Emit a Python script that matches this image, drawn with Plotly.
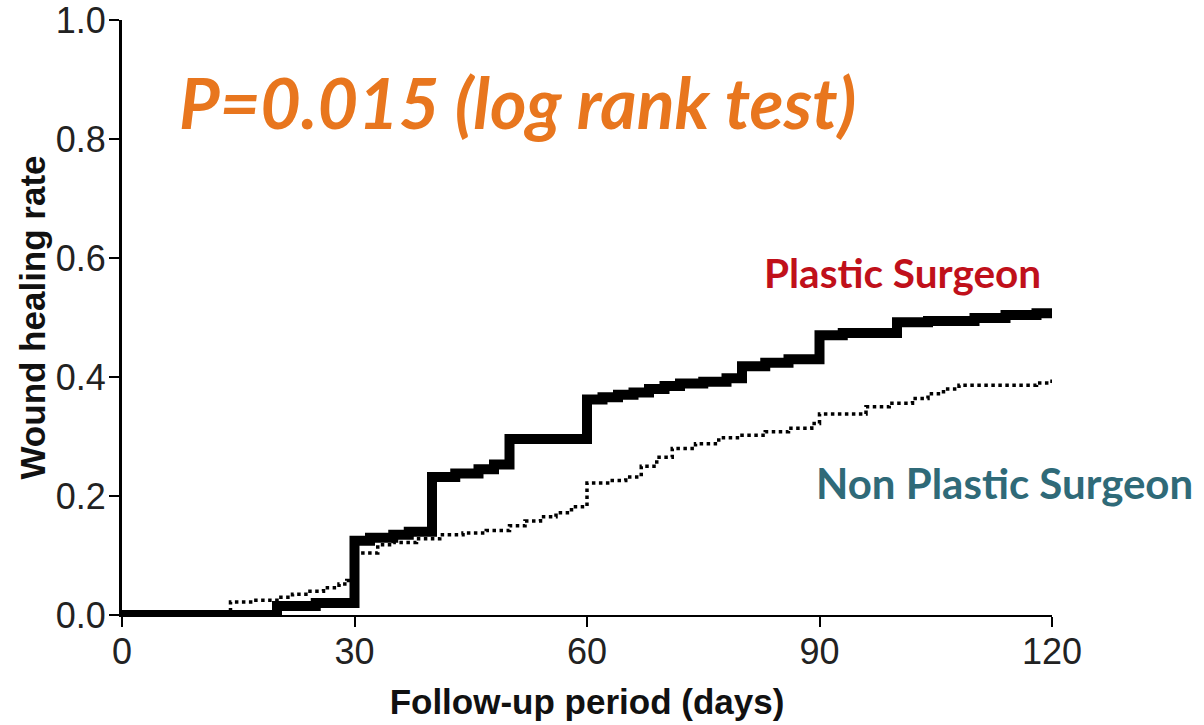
import plotly.graph_objects as go

# ---- data ----
plastic_days = [0, 20, 25, 30, 32, 35, 37, 40, 43, 46, 48, 50, 60, 62, 64, 66, 68, 70, 72, 75, 78,
                80, 83, 86, 90, 93, 100, 104, 110, 114, 118, 120]
plastic_rate = [0.0, 0.015, 0.02, 0.125, 0.13, 0.135, 0.14, 0.232, 0.238, 0.245, 0.253, 0.296,
                0.362, 0.366, 0.37, 0.374, 0.38, 0.385, 0.389, 0.392, 0.398,
                0.418, 0.424, 0.43, 0.47, 0.474, 0.492, 0.494, 0.499, 0.504, 0.507, 0.508]

nonplastic_days = [0, 14, 17, 20, 22, 24, 26, 28, 29, 30, 33, 35, 38, 41, 44, 47, 50, 52, 54, 56, 58,
                   60, 63, 65, 67, 69, 71, 74, 77, 80, 83, 86, 89, 90, 96, 99, 102, 104, 106, 108,
                   118, 120]
nonplastic_rate = [0.0, 0.022, 0.025, 0.03, 0.035, 0.04, 0.046, 0.052, 0.058, 0.104, 0.118, 0.122,
                   0.128, 0.135, 0.138, 0.142, 0.15, 0.158, 0.165, 0.172, 0.182,
                   0.222, 0.226, 0.232, 0.25, 0.265, 0.28, 0.288, 0.298, 0.302, 0.308, 0.314, 0.322,
                   0.338, 0.35, 0.356, 0.364, 0.372, 0.38, 0.386, 0.39, 0.398]

x_ticks = [0, 30, 60, 90, 120]
y_ticks = [0.0, 0.2, 0.4, 0.6, 0.8, 1.0]

p_text = "P=0.015 (log rank test)"
label_plastic = "Plastic Surgeon"
label_nonplastic = "Non Plastic Surgeon"

fig = go.Figure()
fig.add_trace(go.Scatter(
    x=nonplastic_days, y=nonplastic_rate, mode="lines", line_shape="hv",
    line=dict(color="black", width=3.5, dash="dot"), name=label_nonplastic,
    showlegend=False, cliponaxis=False))
fig.add_trace(go.Scatter(
    x=plastic_days, y=plastic_rate, mode="lines", line_shape="hv",
    line=dict(color="black", width=10), name=label_plastic,
    showlegend=False, cliponaxis=False))

axis_font = dict(family="Liberation Sans, Arial, sans-serif", size=36, color="#222")
title_font = dict(family="Liberation Sans, Arial, sans-serif", size=35, color="#111")

fig.update_xaxes(
    range=[0, 120], tickvals=x_ticks, ticks="outside", ticklen=10, tickwidth=2,
    tickcolor="black", showline=True, linecolor="black", linewidth=2,
    showgrid=False, zeroline=False, tickfont=axis_font, ticklabelstandoff=-6,
    ticklabeloverflow="allow",
    title=dict(text="<b>Follow-up period (days)</b>", font=title_font, standoff=18),
    automargin=False)
fig.update_yaxes(
    range=[0, 1], tickvals=y_ticks, tickformat=".1f", ticks="outside", ticklen=10,
    tickwidth=2, tickcolor="black", showline=True, linecolor="black", linewidth=3,
    showgrid=False, zeroline=False, tickfont=axis_font, ticklabelstandoff=-4,
    ticklabeloverflow="allow",
    title=dict(text="<b>Wound healing rate</b>", font=title_font, standoff=0),
    automargin=False)

fig.add_annotation(text="<b><i>" + p_text + "</i></b>", xref="paper", yref="paper",
                   x=0.0595, y=0.862, xanchor="left", yanchor="middle", showarrow=False,
                   font=dict(family="Lato, sans-serif", size=70, color="#E8761E"))
fig.add_annotation(text="<b>" + label_plastic + "</b>", xref="paper", yref="paper",
                   x=0.688, y=0.575, xanchor="left", yanchor="middle", showarrow=False,
                   font=dict(family="Lato, sans-serif", size=40.5, color="#C0101A"))
fig.add_annotation(text="<b>" + label_nonplastic + "</b>", xref="paper", yref="paper",
                   x=0.744, y=0.222, xanchor="left", yanchor="middle", showarrow=False,
                   font=dict(family="Lato, sans-serif", size=42, color="#2F6A78"))

fig.update_layout(
    width=1204, height=725, autosize=False,
    margin=dict(l=122, r=152, t=20, b=110),
    paper_bgcolor="white", plot_bgcolor="white")

fig.write_html("out.html", config={"displayModeBar": False},
               post_script="document.body.style.margin='0px';document.body.style.overflow='hidden';")
